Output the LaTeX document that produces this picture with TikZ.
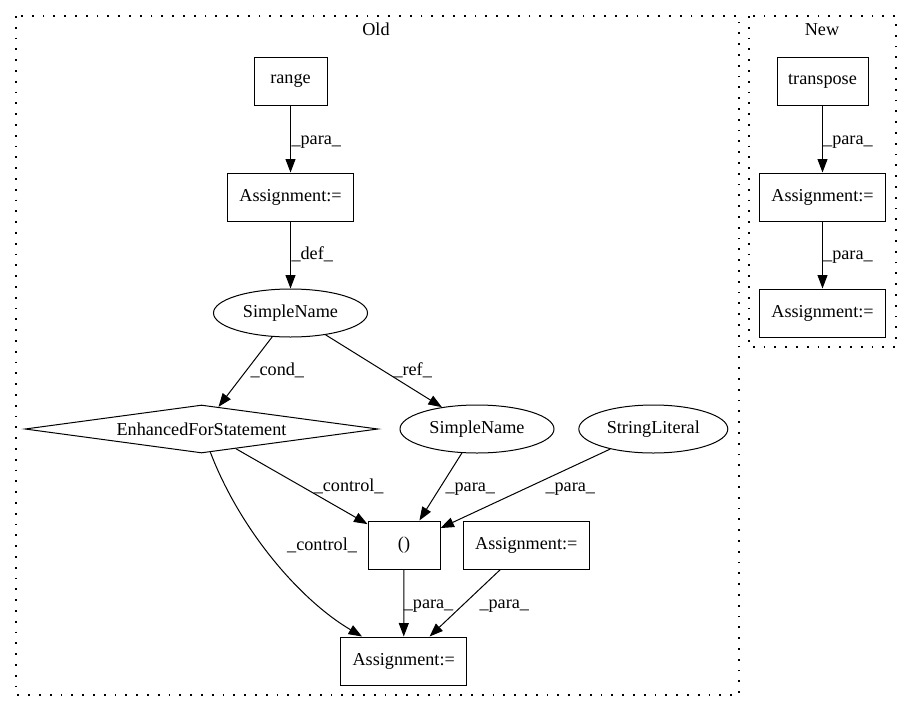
\documentclass[tikz,border=0pt]{standalone}
\usepackage{fontspec}
\setmainfont{Liberation Serif}
\usetikzlibrary{shapes.geometric,arrows.meta}
\tikzset{
 every node/.style={font=\fontsize{18.2}{21}\selectfont},
 box/.style={draw,line width=1pt,rectangle,inner sep=0pt,minimum height=48pt},
 oval/.style={draw,line width=1pt,ellipse,inner sep=0pt,minimum height=48pt},
 cond/.style={draw,line width=1pt,diamond,aspect=7.35,inner sep=0pt,minimum width=353pt,minimum height=48pt},
 edge/.style={line width=1pt,-{Triangle[length=13.5pt,width=10pt]}},
 lbl/.style={anchor=base west,inner sep=0pt},
 cluster/.style={line width=1.2pt,dash pattern=on 1.8pt off 9pt}
}
\begin{document}
\begin{tikzpicture}[x=1pt,y=-1pt]
 \useasboundingbox (0,0) rectangle (912,712);
 \draw[cluster] (16,16) rectangle (739,695);
 \draw[cluster] (749,16) rectangle (896,347);
 \node[anchor=base] (old) at (376,35) {Old};
 \node[anchor=base] (new) at (822,35) {New};
 \node[box,minimum width=73pt] (range) at (290.5,81) {range};
 \node[box,minimum width=126pt] (asg1) at (290.5,197) {Assignment:=};
 \node[oval,minimum width=154pt] (sn1) at (290.5,313) {SimpleName};
 \node[cond] (efs) at (201.5,429) {EnhancedForStatement};
 \node[oval,minimum width=154pt] (sn2) at (477,429) {SimpleName};
 \node[oval,minimum width=149pt] (str) at (653.3,429) {StringLiteral};
 \node[box,minimum width=72pt] (par) at (404,545) {()};
 \node[box,minimum width=126pt] (asg2) at (526.3,545) {Assignment:=};
 \node[box,minimum width=126pt] (asg3) at (403.7,661) {Assignment:=};
 \node[box,minimum width=91pt] (tr) at (822.5,81) {transpose};
 \node[box,minimum width=126pt] (nasg1) at (822.5,197) {Assignment:=};
 \node[box,minimum width=126pt] (nasg2) at (822.5,313) {Assignment:=};
 \draw[edge] (range) -- (asg1) node[lbl] (l1) at (291,144) {\_para\_};
 \draw[edge] (asg1) -- (sn1) node[lbl] (l2) at (291,259.3) {\_def\_};
 \draw[edge] (sn1) -- (efs) node[lbl] (l3) at (250,375) {\_cond\_};
 \draw[edge] (sn1) -- (sn2) node[lbl] (l4) at (393,375) {\_ref\_};
 \draw[edge] (efs) -- (par) node[lbl] (l5) at (313.3,491.7) {\_control\_};
 \draw[edge] (efs) .. controls (240,530) and (300,600) .. (asg3) node[lbl] (l6) at (286.7,550) {\_control\_};
 \draw[edge] (sn2) -- (par) node[lbl] (l7) at (445,491.7) {\_para\_};
 \draw[edge] (str) -- (par) node[lbl] (l8) at (545,491.7) {\_para\_};
 \draw[edge] (par) -- (asg3) node[lbl] (l9) at (403.3,608.3) {\_para\_};
 \draw[edge] (asg2) -- (asg3) node[lbl] (l10) at (479,608.3) {\_para\_};
 \draw[edge] (tr) -- (nasg1) node[lbl] (l11) at (822.7,144) {\_para\_};
 \draw[edge] (nasg1) -- (nasg2) node[lbl] (l12) at (822.7,259.3) {\_para\_};
\end{tikzpicture}
\end{document}
